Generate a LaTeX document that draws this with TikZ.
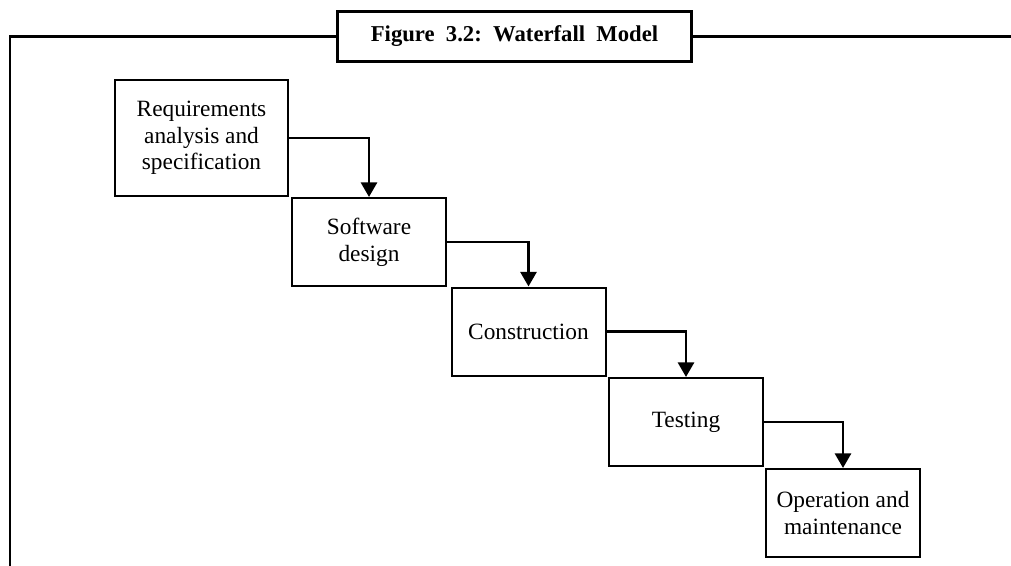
\documentclass[tikz,border=0pt]{standalone}
\usepackage{fontspec}
\setmainfont{Liberation Serif}
\usepackage{tikz}
\usetikzlibrary{arrows.meta, positioning}
\tikzstyle{arrow} = [thick,-{Triangle[width=12pt,length=11pt]}, line width=2.2pt]
\tikzstyle{phase} = [draw, line width=1.5pt, align=center, minimum width=115.5pt, minimum height=66pt, font=\fontsize{17.5}{20}\selectfont]
\tikzset{frame/.style={line width=2.2pt}}

\begin{document}
\begin{tikzpicture}[x=0.75pt, y=-0.75pt]
        \useasboundingbox (0,0) rectangle (1011,565);
        % Draw the title box and the frame around the figure
        \node[draw, line width=2.2pt, minimum width=266pt, minimum height=37pt,
              font=\bfseries\fontsize{17}{20}\selectfont] (title) at (514.5,36.5)
              {Figure~~3.2:~~Waterfall~~Model};
        \coordinate (topleft) at (10,36.5);
        \coordinate (bottomleft) at (10,570);
        \coordinate (topright) at (1015,36.5);
        \draw[frame] (title.west) -- (topleft) -- (bottomleft);
        \draw[frame] (title.east) -- (topright);

        % Draw the phases of the model
        \node[phase, minimum width=130pt, minimum height=87pt] (req) at (201.5,138) {Requirements\\analysis and\\specification};
        \node[phase] (design) at (369,242) {Software\\design};
        \node[phase] (constr) at (528.5,331.5) {Construction};
        \node[phase] (test) at (686,422) {Testing};
        \node[phase] (oper) at (843,513) {Operation and\\maintenance};

        % Draw the arrows between the phases
        \draw[arrow] (req.east) -| (design.north);
        \draw[arrow] (design.east) -| (constr.north);
        \draw[arrow] (constr.east) -| (test.north);
        \draw[arrow] (test.east) -| (oper.north);
    \end{tikzpicture}
\end{document}
